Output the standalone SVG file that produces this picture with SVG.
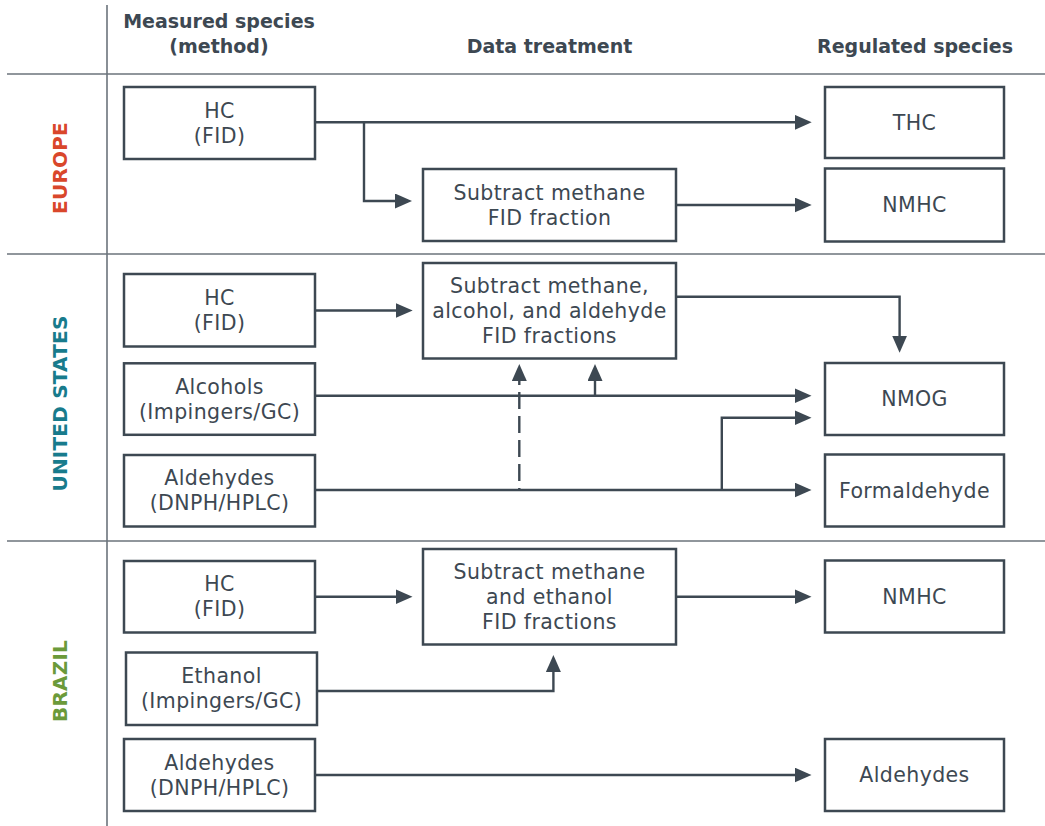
<svg xmlns="http://www.w3.org/2000/svg" width="1045" height="826" viewBox="0 0 1045 826">
<style>
  .bg { fill: #ffffff; }
  .div { stroke: #6b737b; stroke-width: 1.6; fill: none; }
  .box { fill: #ffffff; stroke: #3d4852; stroke-width: 2.5; }
  .t { font-family: "DejaVu Sans", "Liberation Sans", sans-serif; font-size: 20.5px; fill: #3d4852; text-anchor: middle; letter-spacing: 0.4px; }
  .h { font-family: "DejaVu Sans", "Liberation Sans", sans-serif; font-size: 19px; font-weight: bold; fill: #3d4852; text-anchor: middle; }
  .reg { font-family: "DejaVu Sans", "Liberation Sans", sans-serif; font-size: 20px; font-weight: bold; text-anchor: middle; letter-spacing: 0.2px; }
  .c { fill: none; stroke: #3d4852; stroke-width: 2.4; }
  .dash { stroke-dasharray: 17 7; }
</style>
<defs>
  <marker id="arr" markerUnits="userSpaceOnUse" markerWidth="18" markerHeight="16" refX="13" refY="7.5" orient="auto-start-reverse">
    <path d="M0,0 L17,7.5 L0,15 Z" fill="#3d4852"/>
  </marker>
</defs>
<rect class="bg" x="0" y="0" width="1045" height="826"/>

<g id="grid">
  <line class="div" x1="107" y1="5" x2="107" y2="826"/>
  <line class="div" x1="7" y1="74" x2="1045" y2="74"/>
  <line class="div" x1="7" y1="254" x2="1045" y2="254"/>
  <line class="div" x1="7" y1="541" x2="1045" y2="541"/>
</g>

<g id="headers">
  <text class="h" x="219" y="28">Measured species</text>
  <text class="h" x="219" y="53">(method)</text>
  <text class="h" x="549.5" y="53">Data treatment</text>
  <text class="h" x="915" y="53">Regulated species</text>
</g>

<g id="regions">
  <text class="reg" fill="#d9472b" transform="translate(66.8,168) rotate(-90)">EUROPE</text>
  <text class="reg" fill="#187b8c" transform="translate(66.8,403.5) rotate(-90)">UNITED STATES</text>
  <text class="reg" fill="#6b9a3a" transform="translate(66.8,681) rotate(-90)">BRAZIL</text>
</g>

<g id="connectors">
  <path class="c" marker-end="url(#arr)" d="M315,122.3 H807.7"/>
  <path class="c" marker-end="url(#arr)" d="M364,122.3 V201 H408"/>
  <path class="c" marker-end="url(#arr)" d="M676,205 H807.7"/>

  <path class="c" marker-end="url(#arr)" d="M315,310.5 H408.7"/>
  <path class="c" marker-end="url(#arr)" d="M676,296.7 H899.6 V348.7"/>
  <path class="c" marker-end="url(#arr)" d="M315,395.7 H807.5"/>
  <path class="c" marker-end="url(#arr)" d="M595,395.7 V368"/>
  <path class="c dash" marker-start="url(#arr)" d="M519.3,368 V490"/>
  <path class="c" marker-end="url(#arr)" d="M315,490 H807.5"/>
  <path class="c" marker-end="url(#arr)" d="M721.8,490 V417.7 H807.5"/>

  <path class="c" marker-end="url(#arr)" d="M315,596.7 H408.5"/>
  <path class="c" marker-end="url(#arr)" d="M317,691 H553.4 V659"/>
  <path class="c" marker-end="url(#arr)" d="M676,596.7 H807.5"/>
  <path class="c" marker-end="url(#arr)" d="M315,775 H807.5"/>
</g>

<g id="eu-hc">
  <rect class="box" x="124" y="87" width="191" height="72"/>
  <text class="t" x="219.5" y="117.5">HC</text>
  <text class="t" x="219.5" y="142.5">(FID)</text>
</g>
<g id="eu-sub">
  <rect class="box" x="423" y="169" width="253" height="72"/>
  <text class="t" x="549.5" y="199.5">Subtract methane</text>
  <text class="t" x="549.5" y="224.5">FID fraction</text>
</g>
<g id="eu-thc">
  <rect class="box" x="825" y="87" width="179" height="71"/>
  <text class="t" x="914.5" y="129.5">THC</text>
</g>
<g id="eu-nmhc">
  <rect class="box" x="825" y="168.5" width="179" height="73"/>
  <text class="t" x="914.5" y="212">NMHC</text>
</g>

<g id="us-hc">
  <rect class="box" x="124" y="274" width="191" height="72.5"/>
  <text class="t" x="219.5" y="304.8">HC</text>
  <text class="t" x="219.5" y="329.8">(FID)</text>
</g>
<g id="us-alc">
  <rect class="box" x="124" y="363.3" width="191" height="71.5"/>
  <text class="t" x="219.5" y="393.5">Alcohols</text>
  <text class="t" x="219.5" y="418.5">(Impingers/GC)</text>
</g>
<g id="us-ald">
  <rect class="box" x="124" y="455" width="191" height="71.5"/>
  <text class="t" x="219.5" y="485.2">Aldehydes</text>
  <text class="t" x="219.5" y="510.2">(DNPH/HPLC)</text>
</g>
<g id="us-sub">
  <rect class="box" x="423" y="263" width="253" height="95.5"/>
  <text class="t" x="549.5" y="292.5">Subtract methane,</text>
  <text class="t" x="549.5" y="317.5">alcohol, and aldehyde</text>
  <text class="t" x="549.5" y="342.5">FID fractions</text>
</g>
<g id="us-nmog">
  <rect class="box" x="825" y="363" width="179" height="72"/>
  <text class="t" x="914.5" y="406">NMOG</text>
</g>
<g id="us-form">
  <rect class="box" x="825" y="454.5" width="179" height="72"/>
  <text class="t" x="914.5" y="497.5">Formaldehyde</text>
</g>

<g id="br-hc">
  <rect class="box" x="124" y="561" width="191" height="71.5"/>
  <text class="t" x="219.5" y="591.2">HC</text>
  <text class="t" x="219.5" y="616.2">(FID)</text>
</g>
<g id="br-eth">
  <rect class="box" x="126" y="652.5" width="191" height="72.5"/>
  <text class="t" x="221.5" y="683.2">Ethanol</text>
  <text class="t" x="221.5" y="708.2">(Impingers/GC)</text>
</g>
<g id="br-ald">
  <rect class="box" x="124" y="739" width="191" height="72"/>
  <text class="t" x="219.5" y="769.5">Aldehydes</text>
  <text class="t" x="219.5" y="794.5">(DNPH/HPLC)</text>
</g>
<g id="br-sub">
  <rect class="box" x="423" y="549" width="253" height="95.5"/>
  <text class="t" x="549.5" y="578.5">Subtract methane</text>
  <text class="t" x="549.5" y="603.5">and ethanol</text>
  <text class="t" x="549.5" y="628.5">FID fractions</text>
</g>
<g id="br-nmhc">
  <rect class="box" x="825" y="560.5" width="179" height="72"/>
  <text class="t" x="914.5" y="603.5">NMHC</text>
</g>
<g id="br-aldout">
  <rect class="box" x="825" y="739" width="179" height="72"/>
  <text class="t" x="914.5" y="782">Aldehydes</text>
</g>
</svg>
